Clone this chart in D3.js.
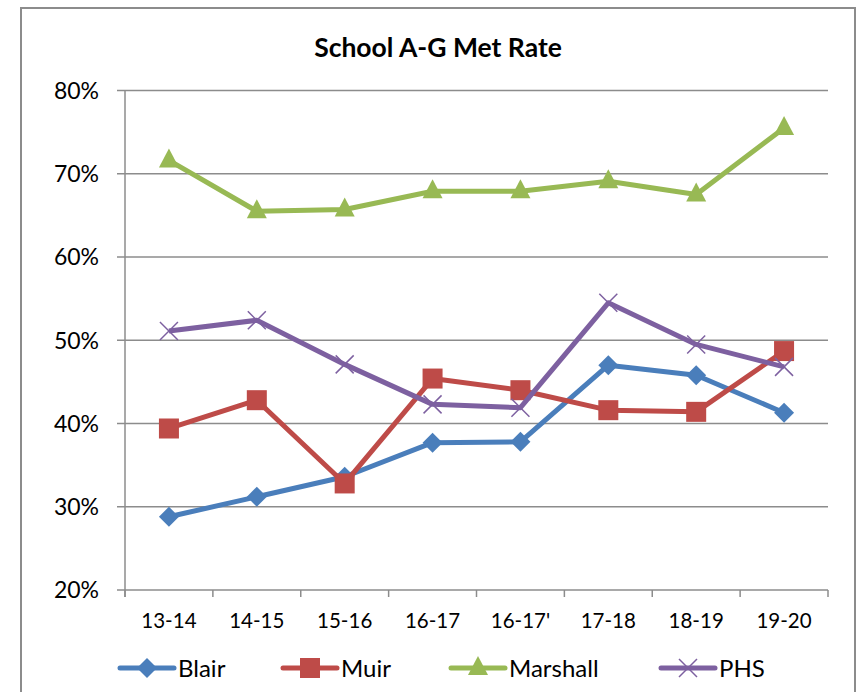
<!DOCTYPE html>
<html><head><meta charset="utf-8">
<script src="https://cdn.jsdelivr.net/npm/d3@7"></script>
<style>body{margin:0;background:#fff}</style>
</head><body>
<script>
const categories = ["13-14","14-15","15-16","16-17","16-17'","17-18","18-19","19-20"];
const blair    = [28.8, 31.2, 33.6, 37.7, 37.8, 47.0, 45.8, 41.3];
const muir     = [39.4, 42.8, 32.8, 45.4, 44.0, 41.6, 41.4, 48.7];
const marshall = [71.6, 65.5, 65.7, 67.9, 67.9, 69.1, 67.5, 75.5];
const phs      = [51.1, 52.4, 47.1, 42.3, 41.9, 54.5, 49.5, 46.8];
const yTicks   = [20, 30, 40, 50, 60, 70, 80];
const seriesNames = ["Blair","Muir","Marshall","PHS"];
const seriesColors = ["#4A7EBB","#BE4B48","#98B954","#7D60A0"];
const seriesMarkers = ["diamond","square","triangle","x"];
const title = "School A-G Met Rate";

const W = 859, H = 692;
const font = "Lato, 'Open Sans', sans-serif";
const svg = d3.select("body").append("svg").attr("width", W).attr("height", H);

// outer border
svg.append("rect").attr("x", 21).attr("y", 8).attr("width", 834).attr("height", 700)
  .attr("fill", "#fff").attr("stroke", "#8c8c8c").attr("stroke-width", 2);

const L = 125, R = 828, T = 90.5, B = 590;
const x = d3.scaleBand().domain(categories).range([L, R]);
const y = d3.scaleLinear().domain([20, 80]).range([B, T]);

// gridlines
svg.append("g").selectAll("line").data(yTicks).join("line")
  .attr("x1", L - 8).attr("x2", R).attr("y1", d => y(d)).attr("y2", d => y(d))
  .attr("stroke", "#8c8c8c").attr("stroke-width", 1.5);

// y axis line
svg.append("line").attr("x1", L).attr("x2", L).attr("y1", T).attr("y2", B + 7)
  .attr("stroke", "#8c8c8c").attr("stroke-width", 1.5);

// x axis ticks
const xb = categories.map(c => x(c)).concat([R]);
svg.append("g").selectAll("line").data(xb).join("line")
  .attr("x1", d => d).attr("x2", d => d).attr("y1", B).attr("y2", B + 7)
  .attr("stroke", "#8c8c8c").attr("stroke-width", 1.5);

// y labels
svg.append("g").selectAll("text").data(yTicks).join("text")
  .attr("x", 99).attr("y", d => y(d)).attr("dy", "0.36em")
  .attr("text-anchor", "end").attr("font-family", font).attr("font-size", 23)
  .attr("fill", "#000").text(d => d + "%");

// x labels
svg.append("g").selectAll("text").data(categories).join("text")
  .attr("x", d => x(d) + x.bandwidth() / 2).attr("y", 628)
  .attr("text-anchor", "middle").attr("font-family", font).attr("font-size", 20.5)
  .attr("fill", "#000").text(d => d);

// title
svg.append("text").attr("x", 438).attr("y", 57).attr("text-anchor", "middle")
  .attr("font-family", font).attr("font-weight", "bold").attr("font-size", 26.5)
  .attr("fill", "#000").text(title);

function drawMarker(g, type, cx, cy, color) {
  if (type === "diamond") {
    g.append("path").attr("d", `M${cx},${cy-10}L${cx+10},${cy}L${cx},${cy+10}L${cx-10},${cy}Z`).attr("fill", color);
  } else if (type === "square") {
    g.append("rect").attr("x", cx - 10).attr("y", cy - 10).attr("width", 20).attr("height", 20).attr("fill", color);
  } else if (type === "triangle") {
    g.append("path").attr("d", `M${cx},${cy-12}L${cx+10},${cy+7}L${cx-10},${cy+7}Z`).attr("fill", color);
  } else {
    g.append("path").attr("d", `M${cx-9},${cy-9}L${cx+9},${cy+9}M${cx+9},${cy-9}L${cx-9},${cy+9}`)
      .attr("stroke", color).attr("stroke-width", 1.5).attr("fill", "none");
  }
}

const allSeries = [blair, muir, marshall, phs];
const line = d3.line().x((d, i) => x(categories[i]) + x.bandwidth() / 2).y(d => y(d));
allSeries.forEach((vals, si) => {
  const g = svg.append("g");
  g.append("path").datum(vals).attr("d", line).attr("fill", "none")
    .attr("stroke", seriesColors[si]).attr("stroke-width", 5).attr("stroke-linejoin", "round");
  vals.forEach((v, i) => drawMarker(g, seriesMarkers[si], x(categories[i]) + x.bandwidth() / 2, y(v), seriesColors[si]));
});

// legend
const legendX = [120, 283, 451, 661];
const ly = 668;
seriesNames.forEach((n, si) => {
  const g = svg.append("g");
  const lx = legendX[si];
  g.append("line").attr("x1", lx).attr("x2", lx + 54).attr("y1", ly).attr("y2", ly)
    .attr("stroke", seriesColors[si]).attr("stroke-width", 5).attr("stroke-linecap", "round");
  drawMarker(g, seriesMarkers[si], lx + 27, ly, seriesColors[si]);
  g.append("text").attr("x", lx + 58).attr("y", ly).attr("dy", "0.36em")
    .attr("font-family", font).attr("font-size", 24).attr("fill", "#000").text(n);
});
</script>
</body></html>
